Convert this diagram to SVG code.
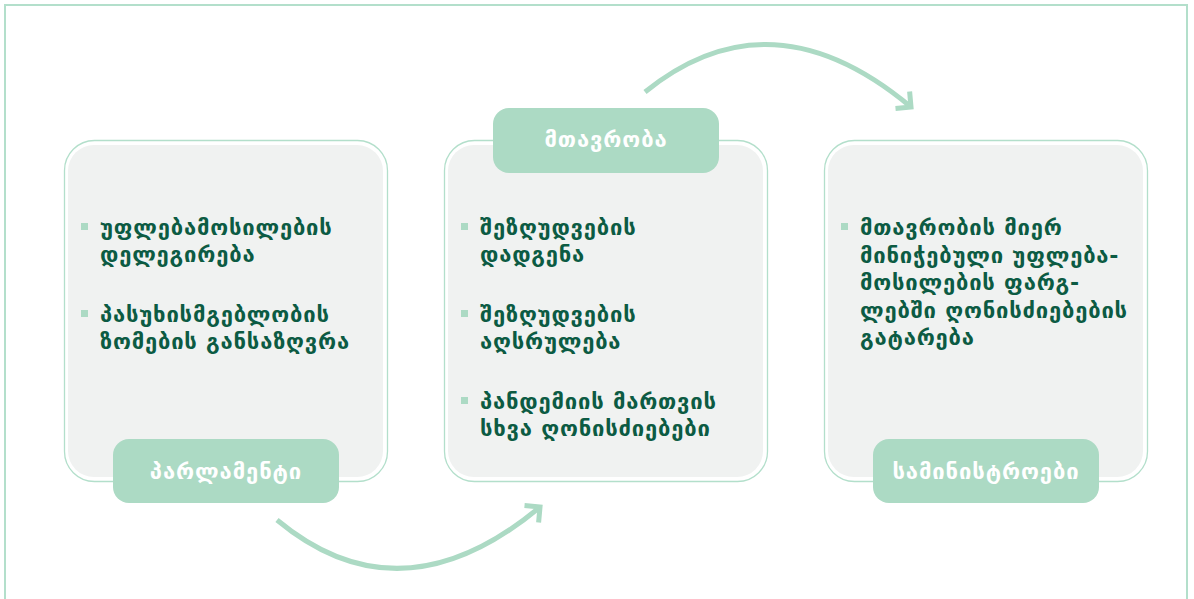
<svg xmlns="http://www.w3.org/2000/svg" width="1194" height="599" viewBox="0 0 1194 599">
<defs>
<style>
.frame{fill:none;stroke:#b3dfcb;stroke-width:2}
.card-out{fill:#ffffff;stroke:#b3dfcb;stroke-width:1.3}
.card-in{fill:#f0f2f1}
.label{fill:#acdac4}
.label-text{fill:#ffffff;font-family:"DejaVu Sans",sans-serif;font-weight:bold;font-size:22px;letter-spacing:0.9px;text-anchor:middle}
.item{fill:#0c5b43;font-family:"DejaVu Sans",sans-serif;font-weight:bold;font-size:22px;letter-spacing:0.8px}
.bullet{fill:#acdac4}
.conn{fill:none;stroke:#acdac4;stroke-width:5;stroke-linecap:butt}
</style>
<marker id="chev" markerUnits="userSpaceOnUse" viewBox="-20 -20 30 40" markerWidth="30" markerHeight="40" refX="0" refY="0" orient="auto">
<path d="M-11,-11 L0,0 L-11,11" fill="none" stroke="#acdac4" stroke-width="5" stroke-linejoin="miter"/>
</marker>
<linearGradient id="bottomGrad" x1="0" y1="0" x2="1" y2="0">
<stop offset="0" stop-color="#d6eee3" stop-opacity="0"/>
<stop offset="0.15" stop-color="#d6eee3" stop-opacity="1"/>
<stop offset="0.85" stop-color="#d6eee3" stop-opacity="1"/>
<stop offset="1" stop-color="#d6eee3" stop-opacity="0"/>
</linearGradient>
</defs>
<rect width="1194" height="599" fill="#ffffff"/>
<g id="frame">
<rect class="frame" x="5" y="5" width="1182" height="610"/>
<line x1="100" y1="597.5" x2="1100" y2="597.5" stroke="url(#bottomGrad)" stroke-width="2"/>
</g>
<g id="connectors">
<path class="conn" d="M277,520 Q401,623 540,507" marker-end="url(#chev)"/>
<path class="conn" d="M645,92 Q771,-10 911,107" marker-end="url(#chev)"/>
</g>
<g id="node-parliament">
<rect class="card-out" x="64.5" y="140.5" width="323" height="341" rx="30"/>
<rect class="card-in" x="68" y="145" width="315" height="332" rx="26"/>
<rect class="bullet" x="81" y="223" width="7" height="7"/>
<text class="item" x="100" y="235">უფლებამოსილების</text>
<text class="item" x="100" y="262">დელეგირება</text>
<rect class="bullet" x="81" y="310" width="7" height="7"/>
<text class="item" x="100" y="322">პასუხისმგებლობის</text>
<text class="item" x="100" y="349">ზომების განსაზღვრა</text>
<rect class="label" x="113" y="439" width="226" height="64" rx="16"/>
<text class="label-text" x="226" y="479">პარლამენტი</text>
</g>
<g id="node-government">
<rect class="card-out" x="444.5" y="140.5" width="323" height="341" rx="30"/>
<rect class="card-in" x="448" y="145" width="315" height="332" rx="26"/>
<rect class="bullet" x="461" y="223" width="7" height="7"/>
<text class="item" x="480" y="235">შეზღუდვების</text>
<text class="item" x="480" y="262">დადგენა</text>
<rect class="bullet" x="461" y="310" width="7" height="7"/>
<text class="item" x="480" y="322">შეზღუდვების</text>
<text class="item" x="480" y="349">აღსრულება</text>
<rect class="bullet" x="461" y="397" width="7" height="7"/>
<text class="item" x="480" y="409">პანდემიის მართვის</text>
<text class="item" x="480" y="436">სხვა ღონისძიებები</text>
<rect class="label" x="493" y="108" width="226" height="65" rx="16"/>
<text class="label-text" x="606" y="147">მთავრობა</text>
</g>
<g id="node-ministries">
<rect class="card-out" x="824.5" y="140.5" width="323" height="341" rx="30"/>
<rect class="card-in" x="828" y="145" width="315" height="332" rx="26"/>
<rect class="bullet" x="841" y="223" width="7" height="7"/>
<text class="item" x="860" y="235">მთავრობის მიერ</text>
<text class="item" x="860" y="262.5">მინიჭებული უფლება-</text>
<text class="item" x="860" y="290">მოსილების ფარგ-</text>
<text class="item" x="860" y="317.5">ლებში ღონისძიებების</text>
<text class="item" x="860" y="345">გატარება</text>
<rect class="label" x="873" y="439" width="226" height="64" rx="16"/>
<text class="label-text" x="986" y="479">სამინისტროები</text>
</g>
</svg>
